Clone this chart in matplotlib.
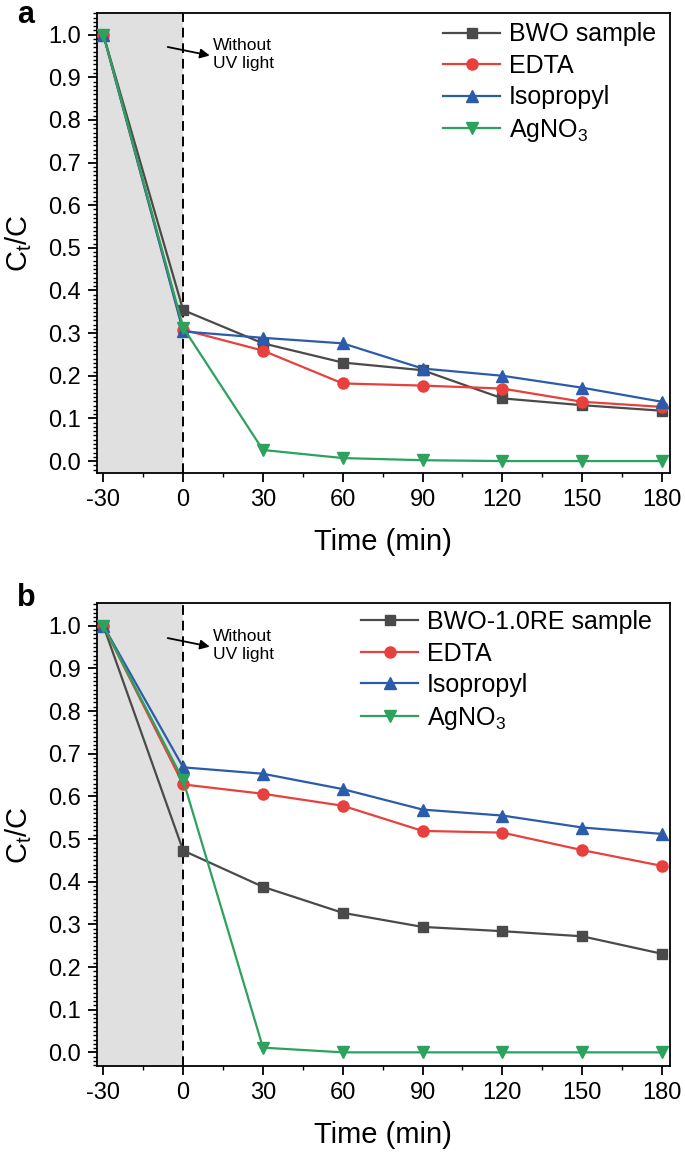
import matplotlib
matplotlib.use("Agg")
import matplotlib.pyplot as plt
from matplotlib.ticker import MultipleLocator

plt.rcParams['font.family'] = ['Liberation Sans', 'DejaVu Sans']
plt.rcParams['mathtext.fontset'] = 'custom'
plt.rcParams['mathtext.rm'] = 'Liberation Sans'
plt.rcParams['mathtext.it'] = 'Liberation Sans'

time = [-30, 0, 30, 60, 90, 120, 150, 180]
xticks = [-30, 0, 30, 60, 90, 120, 150, 180]

labels_a = ['BWO sample', 'EDTA', 'Isopropyl', 'AgNO$_3$']
bwo_a = [1.0, 0.354, 0.276, 0.231, 0.213, 0.147, 0.131, 0.118]
edta_a = [1.0, 0.308, 0.259, 0.182, 0.177, 0.170, 0.139, 0.127]
iso_a = [1.0, 0.304, 0.289, 0.276, 0.217, 0.200, 0.172, 0.139]
ag_a = [1.0, 0.313, 0.026, 0.007, 0.002, 0.0, 0.0, 0.0]

labels_b = ['BWO-1.0RE sample', 'EDTA', 'Isopropyl', 'AgNO$_3$']
bwo_b = [1.0, 0.473, 0.388, 0.327, 0.294, 0.284, 0.272, 0.231]
edta_b = [1.0, 0.628, 0.606, 0.578, 0.519, 0.515, 0.474, 0.437]
iso_b = [1.0, 0.668, 0.653, 0.617, 0.569, 0.555, 0.527, 0.512]
ag_b = [1.0, 0.638, 0.011, 0.0, 0.0, 0.0, 0.0, 0.0]

colors = ['#4a4a4a', '#e8403c', '#2b5cab', '#2ca25c']
markers = ['s', 'o', '^', 'v']
msizes = [7.5, 8, 8.5, 8.5]

W, H = 685, 1159
fig = plt.figure(figsize=(W / 100, H / 100), dpi=100)

def box(l, r, t, b):
    return [l / W, 1 - b / H, (r - l) / W, (b - t) / H]

ax_a = fig.add_axes(box(96.7, 670, 13.3, 473))
ax_b = fig.add_axes(box(96.7, 670, 603.3, 1066))

def draw(ax, series, labels, ylim, leg_x, leg_y):
    ax.axvspan(-40, 0, color='#e0e0e0', zorder=0, lw=0)
    ax.axvline(0, color='black', ls=(0, (5, 3)), lw=1.4, zorder=1)
    for vals, c, m, ms, lab in zip(series, colors, markers, msizes, labels):
        ax.plot(time, vals, color=c, marker=m, ms=ms, lw=1.6, label=lab,
                mec=c, mfc=c, zorder=3)
    ax.set_xlim(-32.5, 183)
    ax.set_ylim(*ylim)
    ax.set_xticks(xticks)
    ax.set_xticklabels([str(t) for t in xticks])
    ax.xaxis.set_minor_locator(MultipleLocator(15))
    ax.yaxis.set_major_locator(MultipleLocator(0.1))
    ax.yaxis.set_minor_locator(MultipleLocator(0.01))
    ax.yaxis.set_major_formatter(matplotlib.ticker.FormatStrFormatter('%.1f'))
    ax.tick_params(axis='both', which='major', direction='out', length=6.5,
                   width=1.3, labelsize=17, pad=5)
    ax.tick_params(axis='both', which='minor', direction='out', length=3,
                   width=1.0)
    for s in ax.spines.values():
        s.set_linewidth(1.3)
    ax.set_xlabel('Time (min)', fontsize=21, labelpad=12)
    ax.set_ylabel('C$_t$/C', fontsize=21, labelpad=10)
    ax.annotate('', xy=(10.0, 0.951), xytext=(-5.8, 0.971),
                arrowprops=dict(arrowstyle='-|>', color='black', lw=1.3,
                                mutation_scale=14, shrinkA=0, shrinkB=0))
    ax.text(11.3, 0.993, 'Without\nUV light', fontsize=12.5, va='top',
            ha='left', linespacing=1.3)
    ax.legend(loc='upper left', bbox_to_anchor=(leg_x, leg_y), frameon=False,
              fontsize=18, handlelength=2.3, handletextpad=0.35,
              labelspacing=0.3, borderpad=0, borderaxespad=0)

draw(ax_a, [bwo_a, edta_a, iso_a, ag_a], labels_a, (-0.028, 1.05), 0.604, 0.98)
draw(ax_b, [bwo_b, edta_b, iso_b, ag_b], labels_b, (-0.032, 1.0525), 0.461, 0.985)

fig.text(26 / W, 1 - 15 / H, 'a', fontsize=22, fontweight='bold',
         ha='center', va='center')
fig.text(26 / W, 1 - 598 / H, 'b', fontsize=22, fontweight='bold',
         ha='center', va='center')

fig.savefig('out.png', dpi=100)
